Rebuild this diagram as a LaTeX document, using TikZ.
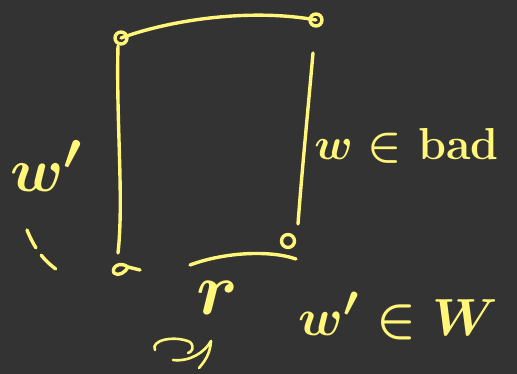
\documentclass[tikz,border=0pt]{standalone}
\usepackage{tikz}

\definecolor{board}{RGB}{51,51,51}
\definecolor{chalk}{RGB}{255,246,122}
\tikzset{
    stroke/.style={draw=chalk, line width=3.4pt, line cap=round, line join=round},
    chalktext/.style={text=chalk, inner sep=0pt, anchor=base west, font=\Huge\boldmath\bfseries}
}

\begin{document}
\begin{tikzpicture}[x=1pt,y=-1pt]
    \fill[board] (0,0) rectangle (517,374);
    \useasboundingbox (0,0) rectangle (517,374);

    \coordinate (A) at (121,38);
    \coordinate (B) at (316,20);
    \coordinate (C) at (288,241);
    \coordinate (D) at (120,268);
    \coordinate (Ls) at (118,46);
    \coordinate (Le) at (118,253);
    \coordinate (Rs) at (313,53);
    \coordinate (Re) at (298,224);
    \coordinate (Bs) at (190,265);
    \coordinate (Be) at (296,259);

    % corners
    \draw[stroke] (A) circle (6pt);
    \draw[stroke] (B) circle (6pt);
    \draw[stroke] (C) circle (6.5pt);
    \draw[stroke] (128,267) .. controls (120,261) and (111,267) .. (114,273)
        .. controls (118,277) and (126,272) .. (128,267) -- (140,270);

    % sides
    \draw[stroke] (A) .. controls (170,20) and (250,8) .. (B);
    \draw[stroke] (Ls) .. controls (116,120) and (124,200) .. (Le);
    \draw[stroke] (Rs) .. controls (308,110) and (302,170) .. (Re);
    \draw[stroke] (Bs) .. controls (225,252) and (270,250) .. (Be);

    % dashed arc and squiggle
    \draw[stroke, dash pattern=on 20pt off 9pt] (27,230) .. controls (35,250) and (45,262) .. (60,272);
    \draw[stroke, line width=2.6pt] (155,350) .. controls (150,340) and (175,335) .. (190,342)
        .. controls (195,347) and (192,352) .. (188,353);
    \draw[stroke, line width=2.6pt] (173,360) .. controls (190,362) and (205,352) .. (211,341);
    \draw[stroke, line width=2.6pt] (211,341) .. controls (210,355) and (204,362) .. (199,368);

    % labels
    \node[chalktext, scale=2.5] (lblwp) at (10,192) {$w'$};
    \node[chalktext, scale=1.8] (lblbad) at (314,160) {$w\in$ bad};
    \node[chalktext, scale=3.0] (lblr) at (196,314) {$r$};
    \node[chalktext, scale=2.1] (lblW) at (298,335) {$w'\in W$};
\end{tikzpicture}
\end{document}
